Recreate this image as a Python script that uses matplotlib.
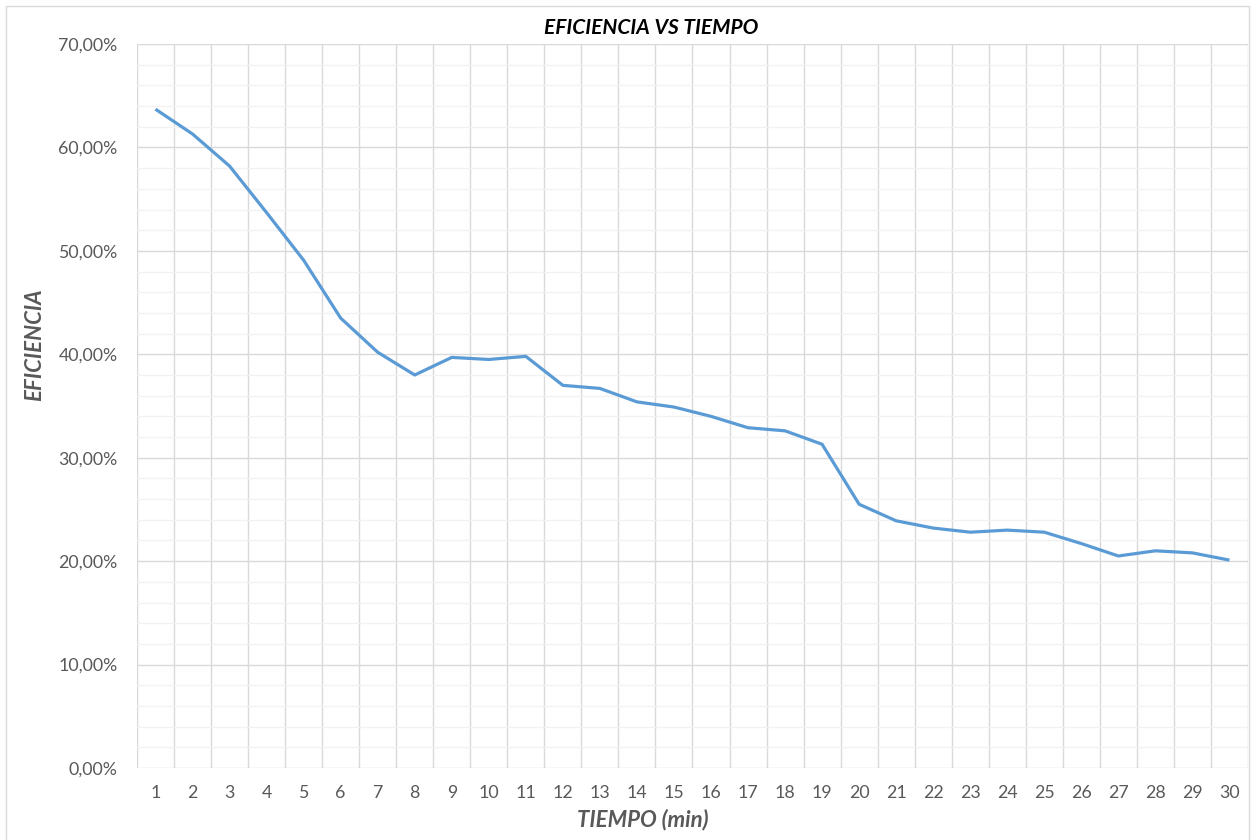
import matplotlib.pyplot as plt
from matplotlib.patches import Rectangle
from matplotlib.ticker import FuncFormatter, MultipleLocator

# data
tiempo = list(range(1, 31))
eficiencia = [63.7, 61.3, 58.2, 53.7, 49.1, 43.5, 40.2, 38.0, 39.7, 39.5,
              39.8, 37.0, 36.7, 35.4, 34.9, 34.0, 32.9, 32.6, 31.3, 25.5,
              23.9, 23.2, 22.8, 23.0, 22.8, 21.7, 20.5, 21.0, 20.8, 20.1]

plt.rcParams['font.family'] = ['Lato', 'DejaVu Sans']
grey = '#595959'

fig = plt.figure(figsize=(12.52, 8.40), dpi=100)
ax = fig.add_axes([0.1094, 0.0857, 0.8874, 0.8619])

ax.plot(tiempo, eficiencia, color='#5B9BD5', linewidth=2.3, solid_capstyle='butt', zorder=3)

ax.set_xlim(0.5, 30.5)
ax.set_ylim(0, 70)

# gridlines between categories (excel style)
for b in range(0, 31):
    ax.axvline(b + 0.5, color='#D9D9D9', linewidth=1.0, zorder=1)
ax.yaxis.set_major_locator(MultipleLocator(10))
ax.yaxis.set_minor_locator(MultipleLocator(2))
ax.grid(which='major', axis='y', color='#D9D9D9', linewidth=1.0, zorder=1)
ax.grid(which='minor', axis='y', color='#F2F2F2', linewidth=1.0, zorder=0)

ax.set_xticks(tiempo)
ax.set_xticklabels([str(t) for t in tiempo])
ax.yaxis.set_major_formatter(FuncFormatter(lambda v, p: ('%.2f' % v).replace('.', ',') + '%'))

ax.tick_params(axis='both', which='both', length=0, colors=grey, labelsize=12.8)
ax.tick_params(axis='x', pad=12)
ax.tick_params(axis='y', pad=14)
for s in ax.spines.values():
    s.set_visible(False)

# titles placed like the excel chart (centred on the chart area)
fig.text(0.520, 0.967, 'EFICIENCIA VS TIEMPO', fontsize=15, fontweight='bold', style='italic',
         color='black', ha='center', va='center')
fig.text(0.513, 0.024, 'TIEMPO (min)', fontsize=16, fontweight='bold', style='italic',
         color=grey, ha='center', va='center')
fig.text(0.028, 0.590, 'EFICIENCIA', fontsize=16, fontweight='bold', style='italic',
         color=grey, ha='center', va='center', rotation=90)

# chart area border
fig.patches.append(Rectangle((0.005, -0.01), 0.993, 1.003, transform=fig.transFigure,
                             fill=False, edgecolor='#D9D9D9', linewidth=1.0))

fig.savefig('out.png', dpi=100)
